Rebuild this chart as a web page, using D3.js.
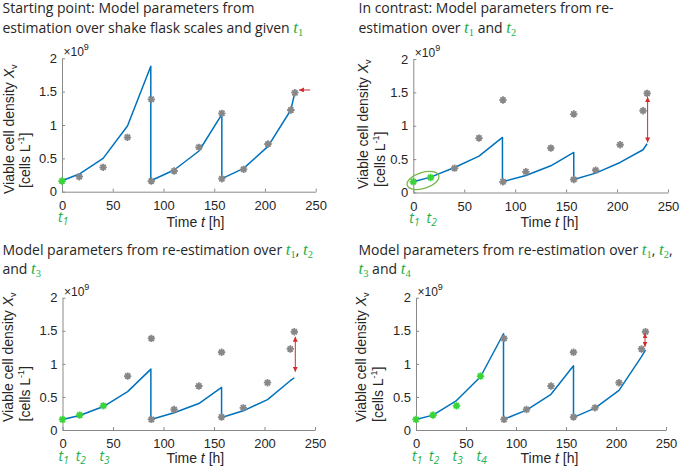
<!DOCTYPE html>
<html><head><meta charset="utf-8">
<script src="https://cdn.jsdelivr.net/npm/d3@7"></script>
<style>
html,body{margin:0;padding:0;background:#fff;}
svg{display:block;}
</style></head>
<body>
<svg id="c" width="685" height="467"></svg>
<script>
// ---------- data ----------
const xTicks = [0, 50, 100, 150, 200, 250];
const yTicks = [0, 0.5, 1, 1.5, 2];
const yTickLabels = ["0", "0.5", "1", "1.5", "2"];

// measured viable cell density (x1e9 cells/L)
const dataTimes = [0, 17, 40.5, 64.5, 88, 88, 110.5, 135, 157.5, 157.5, 179, 203, 225.5, 229.5];
const dataValues = [0.16, 0.225, 0.365, 0.815, 1.385, 0.16, 0.31, 0.665, 1.175, 0.195, 0.335, 0.715, 1.225, 1.485];

// model simulations
const modelTimes = [0, 17, 40.5, 64.5, 87.5, 87.5, 110.5, 135, 157.5, 157.5, 179, 203, 225.5, 229.5];
const model1 = [0.165, 0.265, 0.50, 0.985, 1.88, 0.165, 0.325, 0.61, 1.16, 0.195, 0.35, 0.68, 1.225, 1.49];
const model2 = [0.16, 0.23, 0.375, 0.545, 0.825, 0.16, 0.255, 0.40, 0.60, 0.195, 0.29, 0.45, 0.64, 0.73];
const model3 = [0.16, 0.22, 0.355, 0.58, 0.92, 0.16, 0.26, 0.40, 0.645, 0.19, 0.29, 0.46, 0.745, 0.79];
const model4 = [0.16, 0.225, 0.445, 0.805, 1.455, 0.16, 0.30, 0.54, 0.97, 0.19, 0.33, 0.60, 1.11, 1.21];
const models = [model1, model2, model3, model4];

// number of time points used for (re-)estimation in each panel
const fitCounts = [1, 2, 3, 4];

// titles ({n} = green italic t with subscript n)
const titleLines = [
  ["Starting point: Model parameters from", "estimation over shake flask scales and given {1}"],
  ["In contrast: Model parameters from re-", "estimation over {1} and {2}"],
  ["Model parameters from re-estimation over {1}, {2}", "and {3}"],
  ["Model parameters from re-estimation over {1}, {2},", "{3} and {4}"]
];

// red deviation arrows
const arrowH = [[244.5, 233.5, 1.525]];          // panel 1: [tail t, tip t, value]
const arrowV = [null, [230, 1.43, 0.75], [230.5, 1.41, 0.88], [229, 1.46, 1.26]]; // [t, top tip, bottom tip]
const ellipse2 = [9.5, 0.18];                     // panel 2 annotation centre [t, value]

// ---------- layout ----------
const L = [
  {x0: 62, x1: 315.7, y0: 191.7, y2: 58.3, tx: 2.5, ty: 13, yl: [13.5, 194, 30, 188], xl: [195.5, 226.7]},
  {x0: 413.3, x1: 668, y0: 192.5, y2: 59, tx: 358.5, ty: 13, yl: [368, 189, 385, 187], xl: [549.5, 226.7]},
  {x0: 62.5, x1: 315, y0: 430, y2: 297.7, tx: 2.5, ty: 254.5, yl: [13, 422, 29.5, 421.5], xl: [195.3, 463]},
  {x0: 416, x1: 666, y0: 430, y2: 297.7, tx: 358.5, ty: 254.5, yl: [366, 422, 383, 422], xl: [549.5, 463.3]}
];

const GREEN_T = "#22b04b";
const GREEN_PT = "#3ad43a";
const GRAY = "#878787";
const BLUE = "#0072BD";
const RED = "#d42a2a";
const AX = "#8a8a8a";
const TXT = "#262626";
const SANS = "'Liberation Sans', Arial, sans-serif";
const TITLE_FONT = "'Open Sans', 'Noto Sans', sans-serif";

const svg = d3.select("#c");
svg.append("rect").attr("width", 685).attr("height", 467).attr("fill", "#fff");

const defs = svg.append("defs");
defs.append("marker").attr("id", "ah").attr("viewBox", "0 0 10 10")
  .attr("refX", 10).attr("refY", 5).attr("markerWidth", 5).attr("markerHeight", 5)
  .attr("markerUnits", "userSpaceOnUse").attr("orient", "auto-start-reverse")
  .append("path").attr("d", "M0,0 L10,5 L0,10 z").attr("fill", RED);

function asterisk(r) {
  const p = d3.path();
  for (let k = 0; k < 4; k++) {
    const a = k * Math.PI / 4;
    p.moveTo(-r * Math.cos(a), -r * Math.sin(a));
    p.lineTo(r * Math.cos(a), r * Math.sin(a));
  }
  return p.toString();
}
const star = asterisk(3.7);

function richText(sel, str, tSize, subSize) {
  const parts = str.split(/(\{\d\})/).filter(s => s.length);
  let pendingDy = 0;
  parts.forEach(s => {
    const m = s.match(/^\{(\d)\}$/);
    if (m) {
      const tt = sel.append("tspan").attr("font-family", "'Liberation Serif', serif").attr("font-style", "italic")
        .attr("fill", GREEN_T).attr("font-size", tSize).text("t");
      if (pendingDy) tt.attr("dy", pendingDy);
      sel.append("tspan").attr("font-family", "'Liberation Serif', serif").attr("fill", GREEN_T)
        .attr("font-size", subSize).attr("dy", 3).text(m[1]);
      pendingDy = -3;
    } else {
      const ts = sel.append("tspan").text(s);
      if (pendingDy) ts.attr("dy", pendingDy);
      pendingDy = 0;
    }
  });
}

L.forEach((cfg, i) => {
  const g = svg.append("g");
  const x = d3.scaleLinear().domain([0, 250]).range([cfg.x0, cfg.x1]);
  const y = d3.scaleLinear().domain([0, 2]).range([cfg.y0, cfg.y2]);

  // title
  titleLines[i].forEach((ln, j) => {
    const t = g.append("text").attr("x", cfg.tx).attr("y", cfg.ty + j * 19.5)
      .attr("font-family", TITLE_FONT).attr("font-size", 14).attr("fill", TXT);
    richText(t, ln, 17, 10.5);
  });

  // axes
  const xa = g.append("g").attr("transform", `translate(0,${cfg.y0})`)
    .call(d3.axisBottom(x).tickValues(xTicks).tickFormat(d3.format("d")).tickSizeInner(-3).tickSizeOuter(0).tickPadding(9));
  const ya = g.append("g").attr("transform", `translate(${cfg.x0},0)`)
    .call(d3.axisLeft(y).tickValues(yTicks).tickFormat((d, k) => yTickLabels[k]).tickSizeInner(-3).tickSizeOuter(0).tickPadding(5));
  [xa, ya].forEach(a => {
    a.selectAll("path.domain").attr("stroke", AX).attr("stroke-width", 1);
    a.selectAll(".tick line").attr("stroke", AX);
    a.selectAll(".tick text").attr("fill", TXT).attr("font-family", SANS).attr("font-size", 13);
  });

  // x10^9
  const e = g.append("text").attr("x", cfg.x0 + 1.5).attr("y", cfg.y2 - 2)
    .attr("font-family", SANS).attr("font-size", 12).attr("fill", TXT);
  e.append("tspan").text("\u00D710");
  e.append("tspan").attr("font-size", 9).attr("dy", -6).text("9");

  // y label
  const yl1 = g.append("text").attr("transform", `translate(${cfg.yl[0]},${cfg.yl[1]}) rotate(-90)`)
    .attr("font-family", SANS).attr("font-size", 14).attr("fill", TXT);
  yl1.append("tspan").text("Viable cell density ");
  yl1.append("tspan").attr("font-style", "italic").text("X");
  yl1.append("tspan").attr("font-size", 9).attr("dy", 3).text("v");
  const yl2 = g.append("text").attr("transform", `translate(${cfg.yl[2]},${cfg.yl[3]}) rotate(-90)`)
    .attr("font-family", SANS).attr("font-size", 14).attr("fill", TXT);
  yl2.append("tspan").text("[cells L");
  yl2.append("tspan").attr("font-size", 9).attr("dy", -6).text("-1");
  yl2.append("tspan").attr("dy", 6).text("]");

  // x label
  const xl = g.append("text").attr("x", cfg.xl[0]).attr("y", cfg.xl[1]).attr("text-anchor", "middle")
    .attr("font-family", SANS).attr("font-size", 14).attr("fill", TXT);
  xl.append("tspan").text("Time ");
  xl.append("tspan").attr("font-style", "italic").text("t");
  xl.append("tspan").text(" [h]");

  // t_n labels under axis
  for (let k = 0; k < fitCounts[i]; k++) {
    const tl = g.append("text").attr("x", x(dataTimes[k]) - 4).attr("y", cfg.y0 + 30.5)
      .attr("font-family", TITLE_FONT).attr("font-style", "italic").attr("font-size", 14).attr("fill", GREEN_T);
    tl.append("tspan").text("t");
    tl.append("tspan").attr("font-size", 10).attr("dy", 3).text(String(k + 1));
  }

  // model line
  const pts = modelTimes.map((t, k) => [t, models[i][k]]);
  g.append("path").datum(pts).attr("fill", "none").attr("stroke", BLUE).attr("stroke-width", 1.5)
    .attr("stroke-linejoin", "round")
    .attr("d", d3.line().x(d => x(d[0])).y(d => y(d[1])));

  // measured points
  dataTimes.forEach((t, k) => {
    const isFit = k < fitCounts[i];
    g.append("path").attr("d", star).attr("transform", `translate(${x(t)},${y(dataValues[k])})`)
      .attr("stroke", isFit ? GREEN_PT : GRAY).attr("stroke-width", 1.8).attr("fill", "none");
  });

  // annotations
  if (i === 0) {
    const a = arrowH[0];
    g.append("line").attr("x1", x(a[0])).attr("x2", x(a[1])).attr("y1", y(a[2])).attr("y2", y(a[2]))
      .attr("stroke", RED).attr("stroke-width", 1).attr("marker-end", "url(#ah)");
  }
  if (arrowV[i]) {
    const a = arrowV[i];
    g.append("line").attr("x1", x(a[0])).attr("x2", x(a[0])).attr("y1", y(a[1])).attr("y2", y(a[2]))
      .attr("stroke", RED).attr("stroke-width", 1).attr("marker-start", "url(#ah)").attr("marker-end", "url(#ah)");
  }
  if (i === 1) {
    g.append("ellipse").attr("cx", 0).attr("cy", 0).attr("rx", 16.5).attr("ry", 8)
      .attr("transform", `translate(${x(ellipse2[0])},${y(ellipse2[1])}) rotate(-17)`)
      .attr("fill", "none").attr("stroke", "#7ab648").attr("stroke-width", 1.3);
  }
});
</script>
</body></html>
